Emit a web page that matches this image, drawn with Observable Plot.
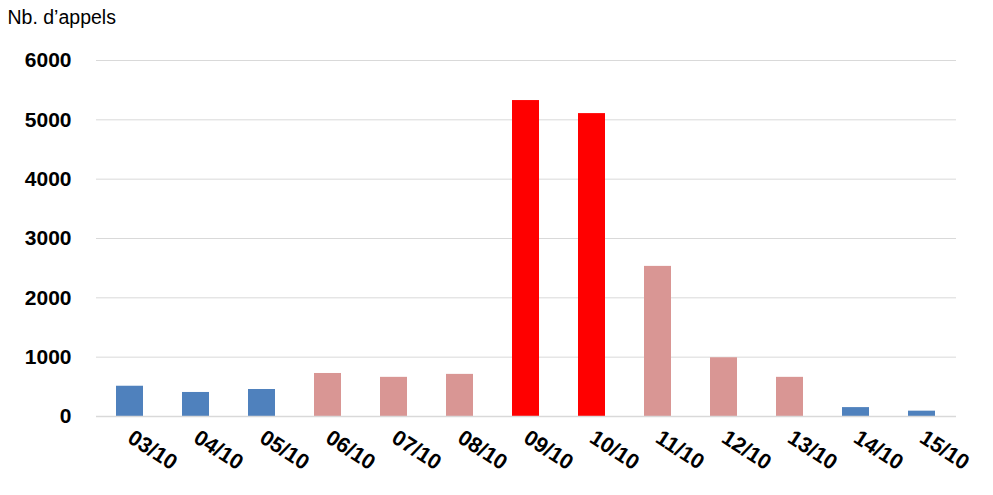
<!DOCTYPE html>
<html>
<head>
<meta charset="utf-8">
<script src="https://cdn.jsdelivr.net/npm/d3@7"></script>
<script src="https://cdn.jsdelivr.net/npm/@observablehq/plot@0.6"></script>
<style>
  html, body { margin: 0; padding: 0; background: #fff; }
  #chart svg { display: block; }
</style>
</head>
<body>
<div id="chart"></div>
<script>
const days = ["03/10","04/10","05/10","06/10","07/10","08/10","09/10","10/10","11/10","12/10","13/10","14/10","15/10"];
const calls = [510, 405, 455, 725, 660, 710, 5325, 5105, 2530, 990, 660, 150, 90];
const levels = ["normal","normal","normal","élevé","élevé","élevé","crise","crise","élevé","élevé","élevé","normal","normal"];
const levelDomain = ["normal","élevé","crise"];
const levelColors = ["#4F81BD","#D99694","#FF0000"];
const yTicks = [0, 1000, 2000, 3000, 4000, 5000, 6000];
const yTitle = "Nb. d\u2019appels";

const data = days.map((d, i) => ({day: d, value: calls[i], level: levels[i]}));

const chart = Plot.plot({
  width: 993,
  height: 495,
  marginTop: 60,
  marginBottom: 79,
  marginLeft: 96,
  marginRight: 37,
  style: {fontFamily: "'Liberation Sans', Arial, sans-serif", background: "#fff"},
  x: {domain: days, paddingInner: 0.59, paddingOuter: 0.295, label: null},
  y: {domain: [0, 6000], label: null},
  color: {domain: levelDomain, range: levelColors},
  marks: [
    Plot.gridY(yTicks, {stroke: "#D9D9D9", strokeOpacity: 1, strokeWidth: 1}),
    Plot.barY(data, {x: "day", y: "value", fill: "level"}),
    Plot.ruleY([0], {stroke: "#D9D9D9", strokeWidth: 1.5}),
    Plot.axisY(yTicks, {tickSize: 0, tickPadding: 25, tickFormat: "d", fontSize: 21, fontWeight: "bold", fill: "#000", label: null}),
    Plot.axisX({tickSize: 0, tickRotate: 33, tickPadding: 19, fontSize: 21.5, fontWeight: "bold", fill: "#000", label: null, style: {letterSpacing: "0.5px"}}),
    Plot.text([yTitle], {frameAnchor: "top-left", dx: -89, dy: -50, text: d => d, fontSize: 19.5, fill: "#000", textAnchor: "start"})
  ]
});
document.getElementById("chart").appendChild(chart);
</script>
</body>
</html>
